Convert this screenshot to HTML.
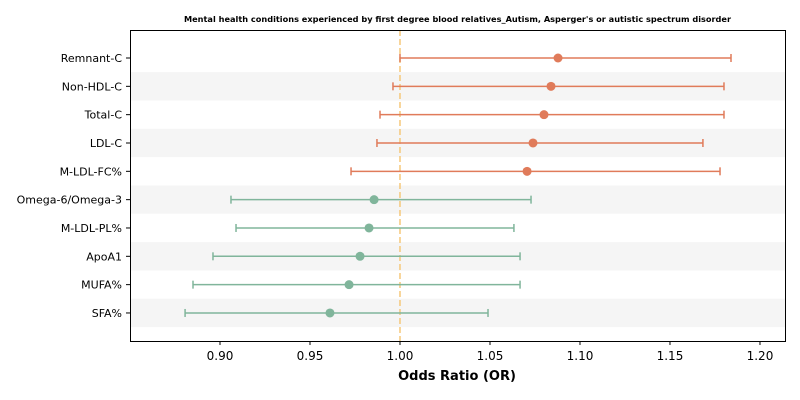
<!DOCTYPE html>
<html><head><meta charset="utf-8"><style>
body{margin:0;background:#fff;}
svg{display:block;font-family:"DejaVu Sans","Liberation Sans",sans-serif;}
</style></head><body>
<svg id="chart" width="800" height="400" xmlns="http://www.w3.org/2000/svg">
<text x="457.5" y="22" text-anchor="middle" font-size="8.2" font-weight="bold">Mental health conditions experienced by first degree blood relatives_Autism, Asperger's or autistic spectrum disorder</text>
<g id="bands"></g>
<g id="marks"></g>
<rect x="130.5" y="30.5" width="655" height="311" fill="none" stroke="#000" stroke-width="1"/>
<g id="axes"></g>
<text x="457" y="380" text-anchor="middle" font-size="13" font-weight="bold">Odds Ratio (OR)</text>
</svg>
<script>
const categories=["Remnant-C","Non-HDL-C","Total-C","LDL-C","M-LDL-FC%","Omega-6/Omega-3","M-LDL-PL%","ApoA1","MUFA%","SFA%"];
const orValues=[1.0878,1.0839,1.080,1.0739,1.0706,0.9856,0.9828,0.9778,0.9717,0.9611];
const ciLow=[1.000,0.9961,0.9889,0.9872,0.9728,0.9061,0.9089,0.8961,0.8850,0.8806];
const ciHigh=[1.1839,1.180,1.180,1.1683,1.1778,1.0728,1.0633,1.0667,1.0667,1.0489];
const xTicks=[0.90,0.95,1.00,1.05,1.10,1.15,1.20];
const NS="http://www.w3.org/2000/svg";
const X0=130,X1=785,DMIN=0.85,DMAX=1.2139;
function xs(v){return X0+(v-DMIN)/(DMAX-DMIN)*(X1-X0);}
function ys(i){return 58+i*28.33;}
function mk(tag,attrs,parent){const e=document.createElementNS(NS,tag);for(const k in attrs)e.setAttribute(k,attrs[k]);parent.appendChild(e);return e;}
const bands=document.getElementById('bands'),marks=document.getElementById('marks'),axes=document.getElementById('axes');
categories.forEach((c,i)=>{
  if(i%2===1){const b=mk('rect',{x:X0,y:ys(i)-14.2,width:X1-X0,height:28.3,fill:'#f5f5f5'},bands);
  
  }
});
const ref=mk('line',{x1:xs(1),x2:xs(1),y1:30,y2:341,stroke:'#f5c87a','stroke-width':1.5,'stroke-dasharray':'6,3'},marks);


categories.forEach((c,i)=>{
  const col=orValues[i]>1?'#e07b5a':'#80b59b';const y=ys(i);
  const g=mk('g',{},marks);
  
  
  mk('line',{x1:xs(ciLow[i]),x2:xs(ciHigh[i]),y1:y,y2:y,stroke:col,'stroke-width':1.5},g);
  mk('line',{x1:xs(ciLow[i]),x2:xs(ciLow[i]),y1:y-4,y2:y+4,stroke:col,'stroke-width':1.5},g);
  mk('line',{x1:xs(ciHigh[i]),x2:xs(ciHigh[i]),y1:y-4,y2:y+4,stroke:col,'stroke-width':1.5},g);
  mk('circle',{cx:xs(orValues[i]),cy:y,r:4.5,fill:col},g);
  mk('line',{x1:126,x2:130,y1:y,y2:y,stroke:'#000'},axes);
  const t=mk('text',{x:122,y:y+4,'text-anchor':'end','font-size':11},axes);t.textContent=c;
  
  
});
xTicks.forEach(v=>{
  mk('line',{x1:xs(v),x2:xs(v),y1:341,y2:345,stroke:'#000'},axes);
  const t=mk('text',{x:xs(v),y:360,'text-anchor':'middle','font-size':12},axes);t.textContent=v.toFixed(2);
  
  
});
</script>
</body></html>
